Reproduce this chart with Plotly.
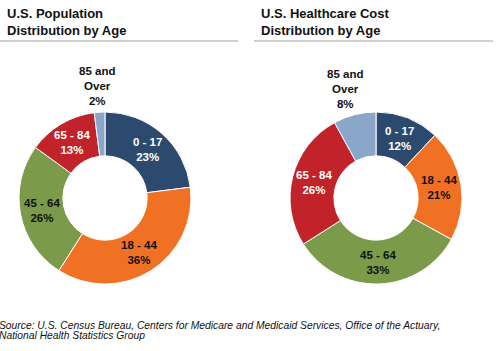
import math
import plotly.graph_objects as go

age_groups = ["0 - 17", "18 - 44", "45 - 64", "65 - 84", "85 and<br>Over"]
population_pct = [23, 36, 26, 13, 2]
cost_pct = [12, 21, 33, 26, 8]
colors = ["#2C4A6E", "#F07124", "#7B9A4A", "#C2232B", "#8AA7C9"]
label_font_colors = ["white", "#111111", "#111111", "white", "#111111"]
outside_flags = [False, False, False, False, True]

W, H = 500, 351
HOLE = 0.49
FONT = "Liberation Sans, Arial, sans-serif"

def px_x(v):
    return v / W

def px_y(v):
    return 1 - v / H

fig = go.Figure()

pies = [(population_pct, (19, 191)), (cost_pct, (290, 462))]
top_px, bottom_px = 112, 284

for vals, (x0, x1) in pies:
    fig.add_trace(go.Pie(
        labels=[g.replace("<br>", " ") for g in age_groups],
        values=vals,
        textinfo="none",
        hoverinfo="label+percent",
        hole=HOLE,
        sort=False,
        direction="clockwise",
        rotation=0,
        marker=dict(colors=colors, line=dict(color="white", width=1)),
        domain=dict(x=[px_x(x0), px_x(x1)], y=[px_y(bottom_px), px_y(top_px)]),
        showlegend=False,
    ))
    # label placement derived from the data (slice mid-angles)
    cx = (x0 + x1) / 2
    cy = (top_px + bottom_px) / 2
    r = (x1 - x0) / 2
    total = sum(vals)
    cum = 0
    for lab, v, col, out in zip(age_groups, vals, label_font_colors, outside_flags):
        mid = (cum + v / 2) / total * 2 * math.pi
        cum += v
        txt = f"<b>{lab}<br>{v}%</b>"
        if out:
            rr = r + 3
            fig.add_annotation(text=txt, x=px_x(cx + 1.4 * rr * math.sin(mid)), y=px_y(cy - rr * math.cos(mid)),
                               xref="paper", yref="paper", xanchor="center", yanchor="bottom",
                               showarrow=False, align="center",
                               font=dict(family=FONT, size=11.5, color=col))
        else:
            rr = r * (1 + HOLE) / 2
            fig.add_annotation(text=txt, x=px_x(cx + rr * math.sin(mid)), y=px_y(cy - rr * math.cos(mid)),
                               xref="paper", yref="paper", xanchor="center", yanchor="middle",
                               showarrow=False, align="center",
                               font=dict(family=FONT, size=11.5, color=col))

titles = [("U.S. Population<br>Distribution by Age", 5), ("U.S. Healthcare Cost<br>Distribution by Age", 259)]
for t, x in titles:
    fig.add_annotation(text=f"<b>{t}</b>", x=px_x(x), y=px_y(4), xref="paper", yref="paper",
                       xanchor="left", yanchor="top", align="left", showarrow=False,
                       font=dict(family=FONT, size=13, color="#111111"))

for x0, x1 in [(0, 238), (254, 493)]:
    fig.add_shape(type="line", x0=px_x(x0), x1=px_x(x1), y0=px_y(41), y1=px_y(41),
                  xref="paper", yref="paper", line=dict(color="#BFBFBF", width=1.5))

source_lines = ["Source: U.S. Census Bureau, Centers for Medicare and Medicaid Services, Office of the Actuary,",
                "National Health Statistics Group"]
for i, s in enumerate(source_lines):
    fig.add_annotation(text=f"<i>{s}</i>", x=px_x(-3), y=px_y(318 + i * 10), xref="paper", yref="paper",
                       xanchor="left", yanchor="top", align="left", showarrow=False,
                       font=dict(family=FONT, size=10.3, color="#111111"))

fig.update_layout(width=W, height=H, margin=dict(l=0, r=0, t=0, b=0),
                  paper_bgcolor="white", plot_bgcolor="white")

fig.write_html("out.html")
